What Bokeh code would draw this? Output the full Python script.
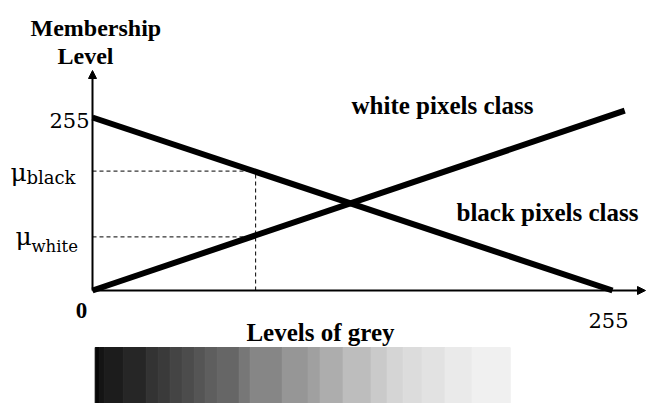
from bokeh.plotting import figure
from bokeh.models import Range1d, Label, Arrow, NormalHead
from bokeh.embed import file_html
from bokeh.resources import INLINE

# ---- data ----
black_x = [0, 255]
black_y = [255, 0]
white_x = [0, 261]
white_y = [0, 265]
grey_x = 80
mu_black = 176
mu_white = 79
y_tick = "255"
x_tick = "255"
zero_tick = "0"
grey_levels = [8, 20, 28, 38, 51, 58, 68, 76, 85, 94, 102, 119, 134, 150,
               160, 173, 189, 202, 213, 220, 226, 234, 240]
band_widths = [4, 5, 19, 23, 12, 12, 12, 12, 11, 12, 22, 11, 32, 26, 12,
               23, 28, 16, 16, 19, 23, 27, 38]

# ---- layout: page pixel -> data mapping ----
W, H = 648, 403
OFF = 0
X0, X1 = 92.0, 612.0   # page x of data 0 and 255
Y0, Y1 = 290.0, 117.0  # page y of data 0 and 255
sx = (X1 - X0) / 255.0
sy = (Y0 - Y1) / 255.0


def dx(X):
    return (X - X0) / sx


def dy(Y):
    return (Y0 - Y) / sy


p = figure(width=W, height=H, output_backend="svg", toolbar_location=None,
           x_range=Range1d(dx(OFF), dx(OFF + W)), y_range=Range1d(dy(OFF + H), dy(OFF)),
           min_border=0, min_border_left=0, min_border_right=0,
           min_border_top=0, min_border_bottom=0)
p.axis.visible = False
p.grid.visible = False
p.outline_line_color = None
p.background_fill_color = "white"
p.border_fill_color = "white"

# gradient bar
bar_left, bar_top, bar_bottom = 94.7, 347, 405
lefts, rights, cols = [], [], []
cur = bar_left
for w, g in zip(band_widths, grey_levels):
    lefts.append(dx(cur))
    rights.append(dx(cur + w))
    cols.append("#%02x%02x%02x" % (g, g, g))
    cur += w
p.quad(left=lefts, right=rights, top=dy(bar_top), bottom=dy(bar_bottom),
       fill_color=cols, line_color=cols, line_width=1)

# axes with arrows
p.add_layout(Arrow(x_start=0, y_start=0, x_end=0, y_end=dy(70),
                   line_width=2, line_color="black",
                   end=NormalHead(size=8, fill_color="black", line_color="black")))
p.add_layout(Arrow(x_start=0, y_start=0, x_end=dx(645), y_end=0,
                   line_width=2, line_color="black",
                   end=NormalHead(size=8, fill_color="black", line_color="black")))

# dashed guides
p.line([0, grey_x], [mu_black, mu_black], line_color="black", line_width=1, line_dash="4 3")
p.line([0, grey_x], [mu_white, mu_white], line_color="black", line_width=1, line_dash="4 3")
p.line([grey_x, grey_x], [0, mu_black], line_color="black", line_width=1, line_dash="4 3")

# membership lines
p.line(black_x, black_y, line_color="black", line_width=6, line_cap="butt")
p.line(white_x, white_y, line_color="black", line_width=6, line_cap="butt")

BOLD_SERIF = "Liberation Serif"
REG_SERIF = "DejaVu Serif"


def lab(X, Y, text, size, bold=False, align="left"):
    p.add_layout(Label(x=dx(X), y=dy(Y), text=text,
                       text_font=BOLD_SERIF if bold else REG_SERIF,
                       text_font_size="%spx" % size,
                       text_font_style="bold" if bold else "normal",
                       text_color="black", text_align=align,
                       text_baseline="alphabetic"))


lab(30, 27, "Membership", 24, bold=True)
lab(57, 55, "Level", 24, bold=True)
lab(89, 120, y_tick, 21, align="right")
lab(10, 172, "\u03bc", 25)
lab(26, 177, "black", 18)
lab(15, 236, "\u03bc", 25)
lab(31, 246, "white", 16.5)
lab(81, 310, zero_tick, 23, bold=True, align="center")
lab(608, 320, x_tick, 21, align="center")
lab(320, 332, "Levels of grey", 25, bold=True, align="center")
lab(351, 105, "white pixels class", 25, bold=True)
lab(456, 212, "black pixels class", 25, bold=True)

open("out.html", "w").write(file_html(p, INLINE))
